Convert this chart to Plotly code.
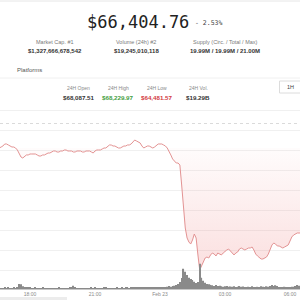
import pandas as pd
import plotly.graph_objects as go

# ---------------- data ----------------
start_time = "2026-02-22 16:30"
interval = "5min"

prices = [
    67999, 67999, 68028, 68057, 68115, 68115, 68086, 68057, 68028, 68028,   # 0-9
    67999, 67942, 67855, 67740, 67711, 67769, 67798, 67798, 67826, 67826,   # 10-19
    67826, 67826, 67798, 67769, 67769, 67798, 67798, 67826, 67855, 67855,   # 20-29
    67884, 67913, 67913, 67884, 67884, 67913, 67913, 67942, 67942, 67913,   # 30-39
    67913, 67913, 67884, 67884, 67913, 67913, 67913, 67884, 67884, 67913,   # 40-49
    67913, 67913, 67884, 67855, 67913, 67942, 67942, 67942, 67971, 67999,   # 50-59
    67999, 68057, 68086, 68086, 68057, 68057, 68028, 67999, 67999, 68028,   # 60-69
    68057, 68057, 68086, 68086, 68115, 68172, 68229.97, 68201, 68172, 68144,  # 70-79
    68057, 67999, 68028, 68057, 68057, 68028, 67999, 68028, 68086, 68115,   # 80-89
    68115, 68115, 68086, 68057, 67999, 67913, 67798, 67682, 67625, 67567,   # 90-99
    67567, 67509, 66933, 66212, 65693, 65405, 65289, 65231, 65347, 65520,   # 100-109
    65405, 64915, 64481.57, 64598, 64742, 64828, 64857, 64828, 64915, 64972,  # 110-119
    64943, 64886, 64972, 64943, 64915, 64972, 65030, 65059, 65087, 65030,   # 120-129
    64943, 64915, 64972, 65001, 65087, 65116, 65087, 65059, 65087, 65116,   # 130-139
    65116, 65145, 65059, 64943, 64886, 64828, 64799, 64799, 64828, 64857,   # 140-149
    64943, 65087, 65203, 65260, 65231, 65174, 65174, 65145, 65116, 65145,   # 150-159
    65174, 65203, 65318, 65434, 65491, 65520, 65549, 65549, 65549,          # 160-168
]

volumes = [
    38, 42, 35, 40, 44, 37, 41, 39, 36, 45,        # 0-9
    40, 78, 205, 190, 112, 46, 41, 74, 44, 39,     # 10-19
    36, 42, 40, 35, 38, 43, 37, 33, 40, 36,        # 20-29
    39, 34, 31, 38, 42, 36, 33, 30, 35, 38,        # 30-39
    44, 70, 128, 52, 38, 34, 36, 31, 40, 37,       # 40-49
    33, 35, 66, 39, 42, 36, 33, 38, 35, 41,        # 50-59
    44, 37, 40, 34, 36, 39, 43, 38, 35, 41,        # 60-69
    37, 45, 52, 40, 48, 61, 55, 47, 58, 66,        # 70-79
    50, 44, 53, 62, 57, 49, 60, 68, 54, 63,        # 80-89
    72, 80, 76, 84, 88, 118, 90, 124, 130, 160,    # 90-99
    205, 285, 440, 810, 690, 560, 450, 405, 360, 290,  # 100-109
    245, 280, 1010, 450, 330, 250, 205, 195, 165, 150,  # 110-119
    125, 160, 120, 130, 110, 95, 115, 120, 90, 105,     # 120-129
    88, 112, 85, 92, 118, 86, 104, 80, 78, 90,          # 130-139
    84, 110, 82, 76, 88, 80, 115, 86, 79, 108,          # 140-149
    90, 120, 158, 125, 150, 118, 85, 78, 82, 90,        # 150-159
    76, 84, 80, 88, 92, 120, 165, 128, 85,              # 160-168
]

tick_times = ["2026-02-22 18:00", "2026-02-22 21:00", "2026-02-23 00:00",
              "2026-02-23 03:00", "2026-02-23 06:00"]
tick_labels = ["18:00", "21:00", "Feb 23", "03:00", "06:00"]

headline_price = "$66,404.76"
headline_change = "- 2.53%"
stat_labels = ["Market Cap. #1", "Volume (24h) #2", "Supply (Circ. / Total / Max)"]
stat_values = ["$1,327,666,678,542", "$19,245,010,118", "19.99M / 19.99M / 21.00M"]
day_labels = ["24H Open", "24H High", "24H Low", "24H Vol."]
day_values = ["$68,087.51", "$68,229.97", "$64,481.57", "$19.29B"]

# ---------------- figure ----------------
n = min(len(prices), len(volumes))
times = pd.date_range(start_time, periods=n, freq=interval)
prices = prices[:n]
volumes = volumes[:n]
base = prices[0]
clipped = [min(p, base) for p in prices]

W = H = 300.0
def py(p):  # pixel y -> paper y
    return 1 - p / H
def px(p):
    return p / W

SANS = "Liberation Sans, Arial, sans-serif"

fig = go.Figure()
fig.add_trace(go.Scatter(x=times, y=[base] * n, mode="lines",
                         line=dict(width=0, color="rgba(0,0,0,0)"),
                         hoverinfo="skip", showlegend=False))
fig.add_trace(go.Scatter(x=times, y=clipped, mode="lines", fill="tonexty",
                         line=dict(width=0, color="rgba(0,0,0,0)"),
                         fillgradient=dict(type="vertical",
                                           colorscale=[[0, "rgba(236,110,110,0.22)"],
                                                       [1, "rgba(236,110,110,0.02)"]],
                                           start=min(prices), stop=base),
                         hoverinfo="skip", showlegend=False))
fig.add_trace(go.Scatter(x=times, y=prices, mode="lines",
                         line=dict(width=1, color="#e39393"),
                         showlegend=False))
fig.add_trace(go.Bar(x=times, y=volumes, yaxis="y2",
                     marker=dict(color="#8a8a8a", line=dict(width=0)),
                     showlegend=False))

# price axis mapping: 68230 at px 140, 28.83 $/px
k = 28.83
def price_at(p):
    return 68230 - (p - 140) * k

top_px, bot_px = 123, 289
fig.update_layout(
    width=300, height=300,
    margin=dict(l=0, r=0, t=0, b=0),
    paper_bgcolor="white", plot_bgcolor="white",
    bargap=0.35,
    xaxis=dict(type="date",
               range=["2026-02-22 16:36:55", "2026-02-23 06:27:42"],
               tickvals=tick_times, ticktext=tick_labels,
               tickfont=dict(size=5, color="#8a8a8a", family=SANS),
               showgrid=False, showline=True, linecolor="#c8c8c8", linewidth=1,
               ticks="", zeroline=False, anchor="y"),
    yaxis=dict(domain=[py(bot_px), py(top_px)],
               range=[price_at(bot_px), price_at(top_px)],
               tick0=price_at(270), dtick=20 * k,
               showgrid=True, gridcolor="#f0f0f0", gridwidth=1,
               showticklabels=False, zeroline=False, ticks=""),
    yaxis2=dict(overlaying="y", range=[0, (bot_px - top_px) * 40],
                showgrid=False, showticklabels=False, zeroline=False),
)

ann = []
def text(x, y, s, size, color="#222", bold=False, family=SANS, xanchor="center"):
    ann.append(dict(x=px(x), y=py(y), xref="paper", yref="paper", text=(f"<b>{s}</b>" if bold else s),
                    showarrow=False, xanchor=xanchor, yanchor="middle",
                    font=dict(size=size, color=color, family=family)))

text(137.5, 22.5, headline_price, 17, "#222", family="DejaVu Sans Mono, monospace")
text(193, 23, headline_change, 6.5, "#444", family="DejaVu Sans Mono, monospace", xanchor="left")

for cx, lab, val in zip([55, 136, 225], stat_labels, stat_values):
    text(cx, 42.5, lab, 5.5, "#7a7a7a")
    text(cx, 51, val, 6, "#333", bold=True)

text(15, 70, "Platforms", 6, "#555", xanchor="left")

day_colors = ["#333", "#3f9e3f", "#d2393f", "#333"]
for cx, lab, val, col in zip([79, 118, 157, 198], day_labels, day_values, day_colors):
    text(cx, 88.5, lab, 5, "#8a8a8a")
    text(cx, 97.5, val, 6.2, col, bold=True)

text(290, 87, "1H", 5.5, "#444")

shapes = [
    dict(type="line", xref="paper", yref="paper", x0=0, x1=1, y0=py(1), y1=py(1),
         line=dict(color="#e6e6e6", width=1)),
    dict(type="line", xref="paper", yref="paper", x0=0, x1=1, y0=py(78), y1=py(78),
         line=dict(color="#f0f0f0", width=1)),
    dict(type="line", xref="paper", yref="paper", x0=0, x1=1, y0=py(110.5), y1=py(110.5),
         line=dict(color="#f0f0f0", width=1)),
    dict(type="line", xref="paper", yref="paper", x0=0, x1=1, y0=py(123.5), y1=py(123.5),
         line=dict(color="#dadada", width=1, dash="dot")),
    dict(type="rect", xref="paper", yref="paper", x0=px(279.5), x1=px(302), y0=py(93), y1=py(81),
         line=dict(color="#dcdcdc", width=1), fillcolor="white"),
    dict(type="rect", xref="paper", yref="paper", x0=0, x1=px(67), y0=py(300), y1=py(297),
         line=dict(width=0), fillcolor="#ececec"),
]
fig.update_layout(annotations=ann, shapes=shapes)

fig.write_html("out.html")
